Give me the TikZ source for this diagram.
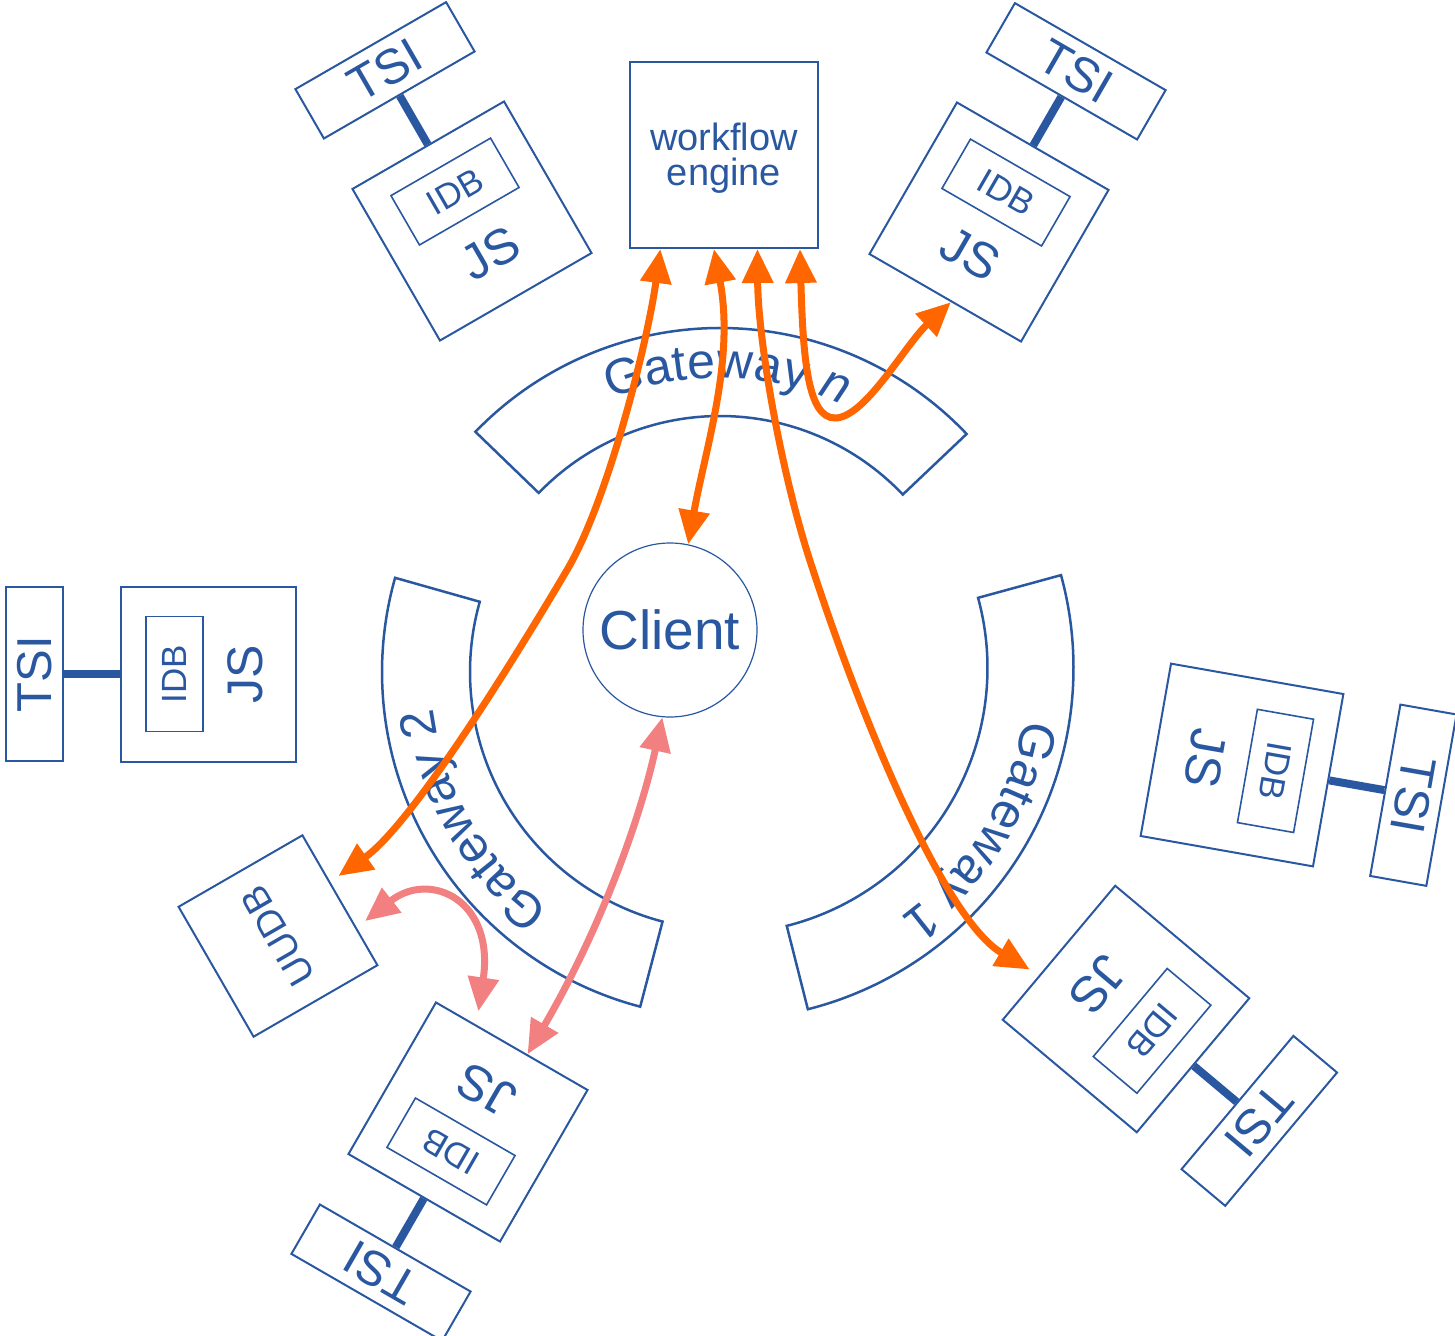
\documentclass[tikz,border=0pt]{standalone}
\usepackage{fontspec}
\setmainfont{Liberation Sans}
\usetikzlibrary{arrows.meta,calc,decorations.text}
\definecolor{gblue}{RGB}{42,88,160}
\definecolor{gorange}{RGB}{255,102,0}
\definecolor{gpink}{RGB}{243,128,128}
\newcommand\gwfont{\fontsize{50}{60}\selectfont}
\tikzset{
  box/.style={draw=gblue, line width=2pt, inner sep=0pt, text=gblue},
  jsbox/.style={box, minimum width=175pt, minimum height=175pt},
  idbbox/.style={box, line width=1.6pt, minimum width=115pt, minimum height=57pt, font=\fontsize{35}{40}\selectfont},
  tsibox/.style={box, minimum width=174pt, minimum height=57pt, font=\fontsize{49}{56}\selectfont},
  jslabel/.style={text=gblue, inner sep=0pt, font=\fontsize{50}{60}\selectfont},
  tsilink/.style={draw=gblue, line width=8pt},
  gw/.style={draw=gblue, line width=2.5pt},
  oarrow/.style={draw=gorange, line width=7pt, {Triangle[length=34pt,width=30pt]}-{Triangle[length=34pt,width=30pt]}},
  parrow/.style={draw=gpink, line width=7pt, {Triangle[length=34pt,width=30pt]}-{Triangle[length=34pt,width=30pt]}},
}
\newcommand\jsunit[3]{%
  \begin{scope}[shift={(#2)}, rotate=#3, transform shape]
    \node[jsbox] (#1) at (0,0) {};
    \node[idbbox] (#1-idb) at (0,34) {IDB};
    \node[jslabel] (#1-js) at (0,-37) {JS};
    \node[tsibox] (#1-tsi) at (0,174) {TSI};
    \draw[tsilink] (#1.north) -- (#1-tsi.south);
  \end{scope}}
\begin{document}
\begin{tikzpicture}[x=1pt,y=1pt]
\useasboundingbox (0,0) rectangle (1455,-1335);

% JS / TSI units
\jsunit{jsTL}{472,-221}{30}
\jsunit{jsTR}{989,-222}{-30}
\jsunit{jsL}{208.5,-674}{90}
\jsunit{jsR}{1242,-765}{-100}
\jsunit{jsBR}{1126,-1009}{-130}
\jsunit{jsB}{468,-1122}{150}

% workflow engine, client, UUDB
\node[box, minimum width=188pt, minimum height=186pt] (engine) at (724,-155) {};
\node[text=gblue, align=center, inner sep=0pt,
      font=\fontsize{38}{35}\selectfont] (enginetext) at (724,-158) {workflow\\engine};
\node[draw=gblue, line width=1.2pt, circle, minimum size=174pt, inner sep=0pt,
      text=gblue, font=\fontsize{55}{66}\selectfont] (client) at (670,-630) {Client};
\node[box, minimum width=150pt, minimum height=143pt, rotate=120,
      font=\fontsize{38}{46}\selectfont] (uudb) at (278,-936) {UUDB};

% Gateway n
\begin{scope}[shift={(720,-668)}]
  \draw[gw] (43.5:252) arc[start angle=43.5, end angle=136, radius=252pt]
     -- (136:340) arc[start angle=136, end angle=43.5, radius=340pt] -- cycle;
  \path[decorate, decoration={text along path, text align=center,
     text={|\gwfont\color{gblue}|Gateway |\gwfont\itshape\color{gblue}|n}}]
     (130:290) arc[start angle=130, end angle=47, radius=290pt];
\end{scope}
% Gateway 2
\begin{scope}[shift={(728,-672)}]
  \draw[gw] (164.2:258) arc[start angle=164.2, end angle=255.3, radius=258pt]
     -- (255.3:346) arc[start angle=255.3, end angle=164.2, radius=346pt] -- cycle;
  \path[decorate, decoration={text along path, text align=center,
     text={|\gwfont\color{gblue}|Gateway 2}}]
     (250:297) arc[start angle=250, end angle=170, radius=297pt];
\end{scope}
% Gateway 1
\begin{scope}[shift={(721.5,-668)}]
  \draw[gw] (-75.8:266) arc[start angle=-75.8, end angle=15.3, radius=266pt]
     -- (15.3:352) arc[start angle=15.3, end angle=-75.8, radius=352pt] -- cycle;
  \path[decorate, decoration={text along path, text align=center,
     text={|\gwfont\color{gblue}|Gateway 1}}]
     (8:307) arc[start angle=8, end angle=-72, radius=307pt];
\end{scope}

% orange arrows
\draw[oarrow] ($(engine.south west)!0.165!(engine.south east)$)
   .. controls (648,-340) and (608,-501) .. (567,-570)
   .. controls (511,-665) and (411,-825) .. ($(uudb.south)!0.3!(uudb.south east)+(9,4)$);
\draw[oarrow] ($(engine.south west)!0.447!(engine.south east)$)
   .. controls (735,-360) and (705,-450) .. (client.78);
\draw[oarrow] ($(engine.south west)!0.676!(engine.south east)$)
   .. controls (758,-340) and (781,-475) .. (813,-570)
   .. controls (862,-720) and (944,-919) .. ($(jsBR.south east)!0.32!(jsBR.south west)+(-8,7)$);
\draw[oarrow] ($(engine.south west)!0.9!(engine.south east)$)
   .. controls (803,-360) and (808,-418) .. (835,-418)
   .. controls (865,-418) and (905,-345) .. ($(jsTR.south)!0.08!(jsTR.south east)$);

% pink arrows
\draw[parrow] (client.-95)
   .. controls (640,-820) and (600,-930) .. ($(jsB.south)!0.2!(jsB.south west)$);
\draw[parrow] ($(uudb.south)!0.4!(uudb.south west)+(9,5)$)
   .. controls (430,-870) and (495,-900) .. ($(jsB.south east)!0.24!(jsB.south west)+(6,11)$);
\end{tikzpicture}
\end{document}
